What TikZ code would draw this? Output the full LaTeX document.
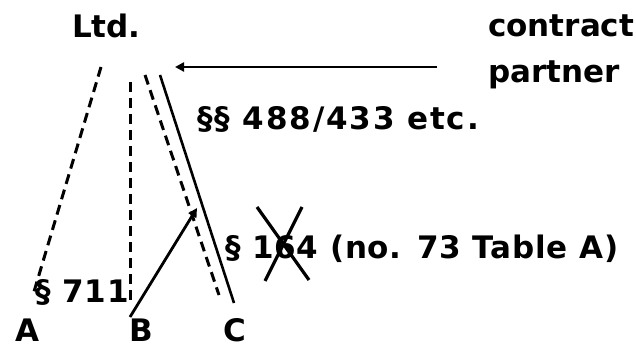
\documentclass[tikz,border=0pt]{standalone}
\usepackage{fontspec}
\setmainfont{DejaVu Sans}
\usepackage{tikz}
\usetikzlibrary{arrows.meta,positioning}

\begin{document}
\begin{tikzpicture}[
  x=1pt, y=-1pt,
  font=\fontsize{31}{46}\selectfont\bfseries,
  lab/.style={inner sep=0pt, anchor=base west},
  corner/.style={inner sep=0pt, anchor=base},
  wide/.style={font=\fontsize{31}{46}\selectfont\bfseries\addfontfeatures{LetterSpace=#1}},
  dline/.style={line width=3pt, dash pattern=on 10pt off 6pt},
  sline/.style={line width=2.6pt},
  arr/.style={line width=2.8pt, -{Triangle[length=9pt, width=9pt]}}
]
\useasboundingbox (0,0) rectangle (636,347);

% parties
\node[lab] (ltd) at (72,38) {Ltd.};
\node[lab, align=left] (cp) at (488,83) {contract\\partner};
\node[corner] (a) at (27,341) {A};
\node[corner] (b) at (141,341) {B};
\node[corner] (c) at (235,341) {C};

% provisions
\node[lab, wide=6] (p488) at (197,130) {§§ 488/433 etc.};
\node[lab, wide=2.5] (p164) at (225,258) {§ 164 (no. 73 Table A)};
\node[lab, wide=2.6] (p711) at (35,302) {§ 711};

% lines from the company down to A, B and C
\coordinate (atop) at (101,67);
\coordinate (abot) at (33,295);
\coordinate (btop) at (130,82);
\coordinate (bbot) at (130,300);
\coordinate (ctop) at (145,75);
\coordinate (cbot) at (219,295);
\coordinate (stop) at (160,75);
\coordinate (sbot) at (234,303);
\draw[dline] (atop) -- (abot);
\draw[dline] (btop) -- (bbot);
\draw[dline] (ctop) -- (cbot);
\draw[sline] (stop) -- (sbot);

% arrows
\coordinate (cpin) at (437,67);
\coordinate (ltdin) at (175,67);
\draw[arr] (cpin) -- (ltdin);
\coordinate (bout) at (130,317);
\coordinate (sin) at (197,208);
\draw[arr] (bout) -- (sin);

% crossed out
\draw[sline, line width=3.2pt] (257,207) -- (309,280);
\draw[sline, line width=3.2pt] (302,207) -- (265,281);
\end{tikzpicture}
\end{document}
